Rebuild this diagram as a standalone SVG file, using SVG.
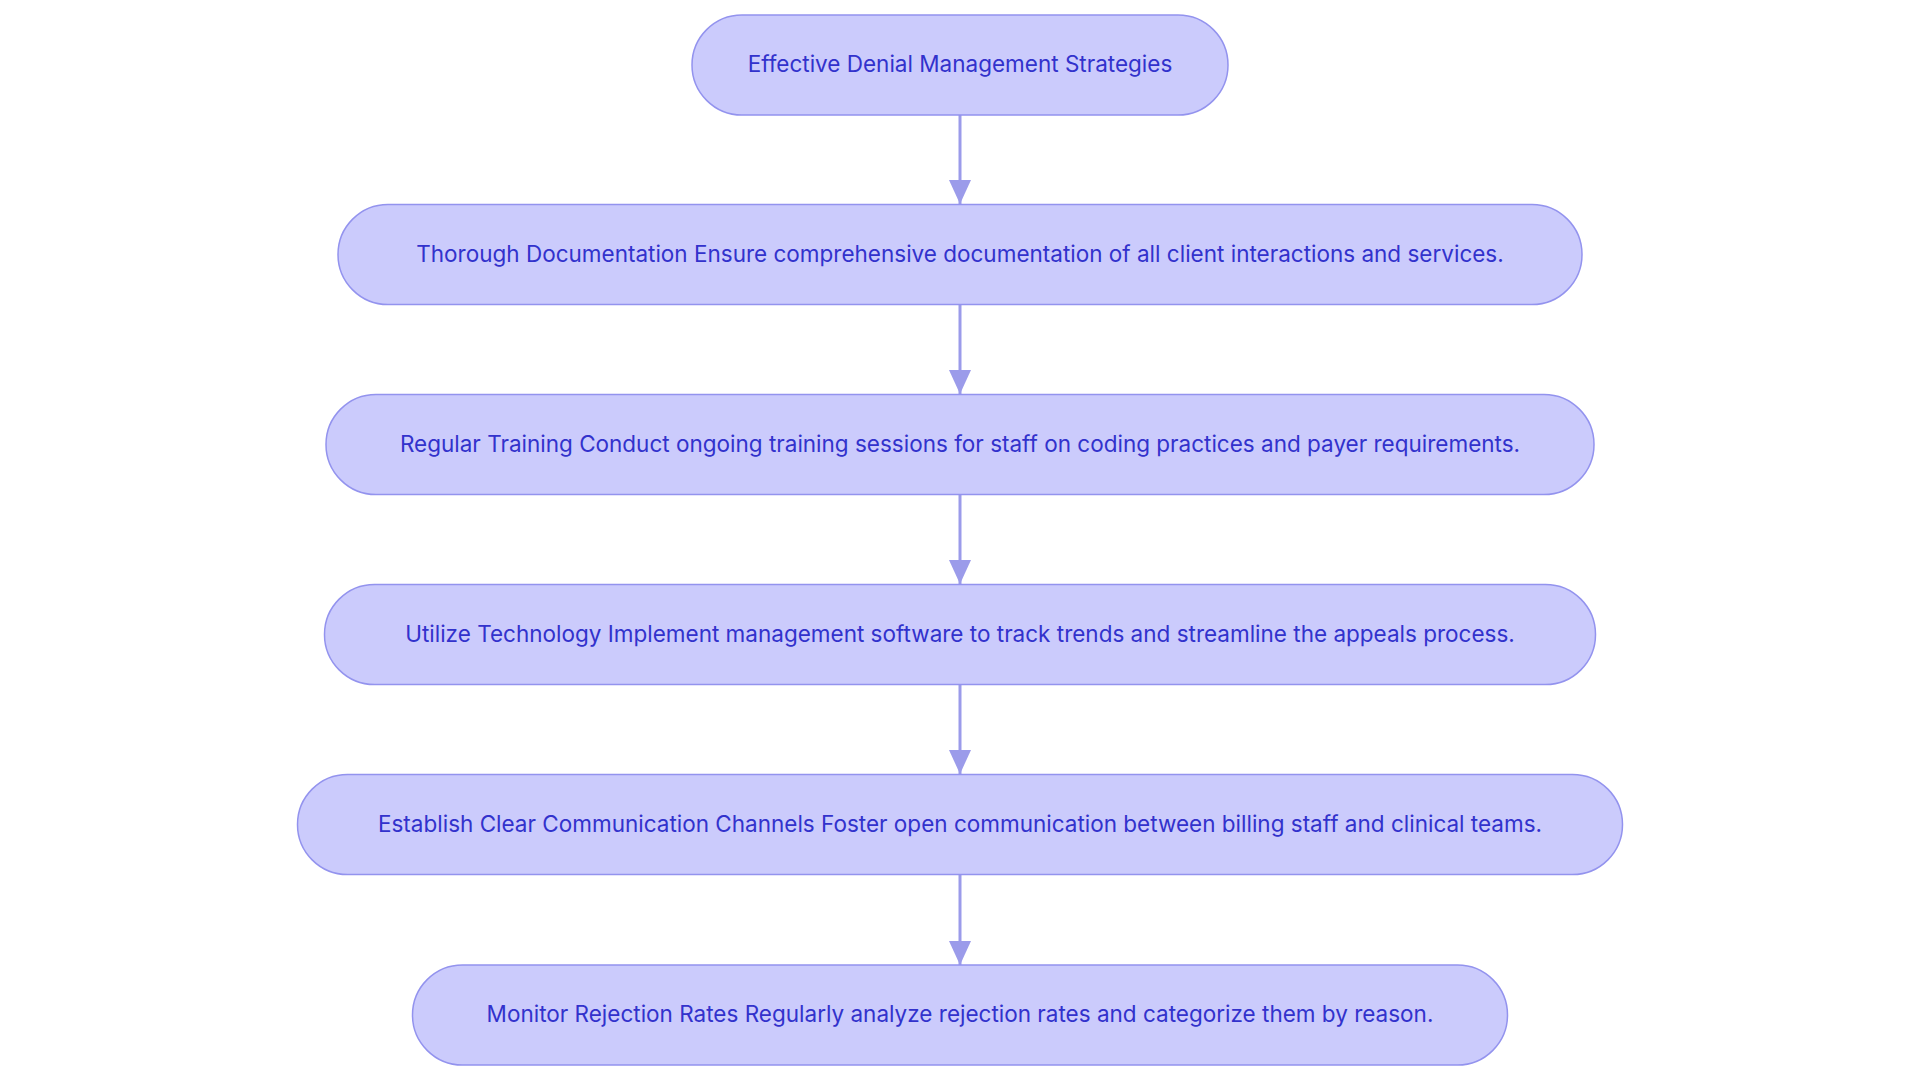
<svg xmlns="http://www.w3.org/2000/svg" width="1920" height="1083" viewBox="0 0 1920 1083">
<style>
.n{fill:#cbcbfc;stroke:#9393ee;stroke-width:1.5}
.t{font-family:Inter,"Noto Sans",sans-serif;font-size:22.5px;fill:#3232cc;text-anchor:middle;dominant-baseline:central}
.e{stroke:#9b9bea;stroke-width:3;fill:none}
</style>
<defs><marker id="a" viewBox="0 0 10 10" refX="10" refY="5" markerWidth="8" markerHeight="8" markerUnits="userSpaceOnUse" orient="auto"><path d="M0,0L10,5L0,10z" fill="#9b9bea"/></marker>
<marker id="b" viewBox="0 0 10 10" refX="10" refY="5" markerWidth="24" markerHeight="22" markerUnits="userSpaceOnUse" orient="auto" preserveAspectRatio="none"><path d="M0,0L10,5L0,10z" fill="#9b9bea"/></marker></defs>
<rect width="1920" height="1083" fill="#fff"/>
<g id="edges">
<path class="e" d="M960,115V204" marker-end="url(#b)"/>
<path class="e" d="M960,305V394" marker-end="url(#b)"/>
<path class="e" d="M960,495V584" marker-end="url(#b)"/>
<path class="e" d="M960,685V774" marker-end="url(#b)"/>
<path class="e" d="M960,875V965" marker-end="url(#b)"/>
</g>
<g id="n1"><rect class="n" x="692" y="15" width="536" height="100" rx="50"/><text class="t" x="960" y="63">Effective Denial Management Strategies</text></g>
<g id="n2"><rect class="n" x="338" y="204.5" width="1244" height="100" rx="50"/><text class="t" x="960" y="253">Thorough Documentation Ensure comprehensive documentation of all client interactions and services.</text></g>
<g id="n3"><rect class="n" x="326" y="394.5" width="1268" height="100" rx="50"/><text class="t" x="960" y="443">Regular Training Conduct ongoing training sessions for staff on coding practices and payer requirements.</text></g>
<g id="n4"><rect class="n" x="324.5" y="584.5" width="1271" height="100" rx="50"/><text class="t" x="960" y="633">Utilize Technology Implement management software to track trends and streamline the appeals process.</text></g>
<g id="n5"><rect class="n" x="297.5" y="774.5" width="1325" height="100" rx="50"/><text class="t" x="960" y="823">Establish Clear Communication Channels Foster open communication between billing staff and clinical teams.</text></g>
<g id="n6"><rect class="n" x="412.5" y="965" width="1095" height="100" rx="50"/><text class="t" x="960" y="1013">Monitor Rejection Rates Regularly analyze rejection rates and categorize them by reason.</text></g>
</svg>
